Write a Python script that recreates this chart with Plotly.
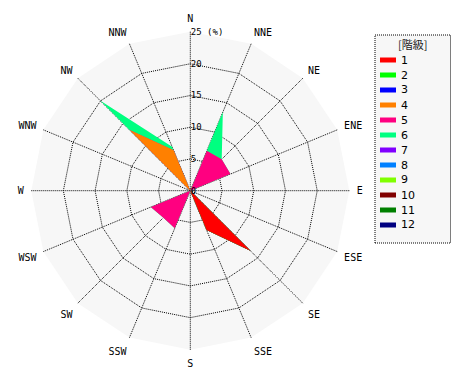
import plotly.graph_objects as go

directions = ["N", "NNE", "NE", "ENE", "E", "ESE", "SE", "SSE",
              "S", "SSW", "SW", "WSW", "W", "WNW", "NW", "NNW"]
class_names = ["1", "2", "3", "4", "5", "6", "7", "8", "9", "10", "11", "12"]
class_colors = ["#ff0000", "#00ff00", "#0000ff", "#ff8000", "#ff0080", "#00ff80",
                "#8000ff", "#0080ff", "#80ff00", "#800000", "#008000", "#000080"]

# frequency (%) per class for each direction (N, NNE, ... NNW)
c1 = [0, 0, 0, 0, 0, 0, 13.4, 6.7, 0, 0, 0, 0, 0, 0, 0, 0]
c2 = [0, 0, 0, 0, 0, 0, 0, 0, 0, 0, 0, 0, 0, 0, 0.3, 0]
c3 = [0, 0.2, 0.2, 0.2, 0, 0, 0, 0, 0, 0, 0, 0, 0, 0, 0, 0]
c4 = [0, 0, 0, 0, 0, 0, 0, 0, 0, 0.2, 0, 0, 0, 0, 13.2, 6.9]
c5 = [0, 6.6, 6.8, 6.65, 0, 0, 0, 0, 0, 6.2, 6.0, 6.75, 0, 0, 0, 0]
c6 = [0, 6.6, 0, 0, 0, 0, 0, 0, 0, 0, 0, 0, 0, 0, 6.6, 0.6]
c7 = [0] * 16
c8 = [0] * 16
c9 = [0] * 16
c10 = [0] * 16
c11 = [0] * 16
c12 = [0] * 16
classes = [c1, c2, c3, c4, c5, c6, c7, c8, c9, c10, c11, c12]

radial_ticks = [0, 5, 10, 15, 20, 25]
radial_ticktext = ["0", "5", "10", "15", "20", "25 (%)"]
legend_title = "[階級]"

# cumulative stacking
cum = []
run = [0.0] * 16
for c in classes:
    run = [a + b for a, b in zip(run, c)]
    cum.append(run)

fig = go.Figure()
# draw outermost first so inner classes sit on top
for i in reversed(range(len(classes))):
    if max(classes[i]) == 0:
        continue
    fig.add_trace(go.Scatterpolar(
        r=cum[i], theta=directions, mode="lines", fill="toself",
        fillcolor=class_colors[i], line=dict(width=0, color=class_colors[i]),
        showlegend=False, hoverinfo="skip"))

mono = "DejaVu Sans Mono"
dotted = "1px,1px"

# manual legend box (layout decoration)
W, H = 470, 380
box_x0, box_x1, box_y0, box_y1 = 375, 450.5, 35, 243
shapes = [dict(type="rect", xref="paper", yref="paper",
               x0=box_x0 / W, x1=box_x1 / W, y0=1 - box_y1 / H, y1=1 - box_y0 / H,
               line=dict(color="black", width=1, dash=dotted),
               fillcolor="#f7f7f7", layer="below")]
annotations = [dict(text=legend_title, xref="paper", yref="paper",
                    x=(box_x0 + box_x1) / 2 / W, y=1 - 44 / H, showarrow=False,
                    xanchor="center", yanchor="middle",
                    font=dict(family="Noto Sans CJK JP", size=11, color="#222"))]
for k, (name, col) in enumerate(zip(class_names, class_colors)):
    yy = 60 + 15 * k
    shapes.append(dict(type="line", xref="paper", yref="paper",
                       x0=380 / W, x1=396 / W, y0=1 - yy / H, y1=1 - yy / H,
                       line=dict(color=col, width=5)))
    annotations.append(dict(text=name, xref="paper", yref="paper",
                            x=399 / W, y=1 - yy / H, showarrow=False,
                            xanchor="left", yanchor="middle",
                            font=dict(family="DejaVu Sans", size=11, color="black")))

fig.update_layout(
    width=W, height=H,
    margin=dict(l=0, r=0, t=0, b=0),
    paper_bgcolor="white",
    showlegend=False,
    polar=dict(
        domain=dict(x=[31.3 / W, 349.3 / W], y=[30.3 / H, 348.3 / H]),
        gridshape="linear",
        bgcolor="#f7f7f7",
        angularaxis=dict(
            type="category", categoryarray=directions, direction="clockwise",
            rotation=90, showline=False, showgrid=True, gridcolor="black",
            gridwidth=1, griddash=dotted, ticks="outside", ticklen=5,
            tickcolor="rgba(0,0,0,0)",
            tickfont=dict(family=mono, size=10, color="black")),
        radialaxis=dict(
            range=[0, 25.05], angle=90, tickangle=90, tickmode="array",
            tickvals=radial_ticks, ticktext=radial_ticktext,
            showline=False, ticks="", gridcolor="black", gridwidth=1,
            griddash=dotted, side="clockwise",
            tickfont=dict(family=mono, size=9, color="black")),
    ),
    shapes=shapes,
    annotations=annotations,
)

fig.write_html("out.html")
